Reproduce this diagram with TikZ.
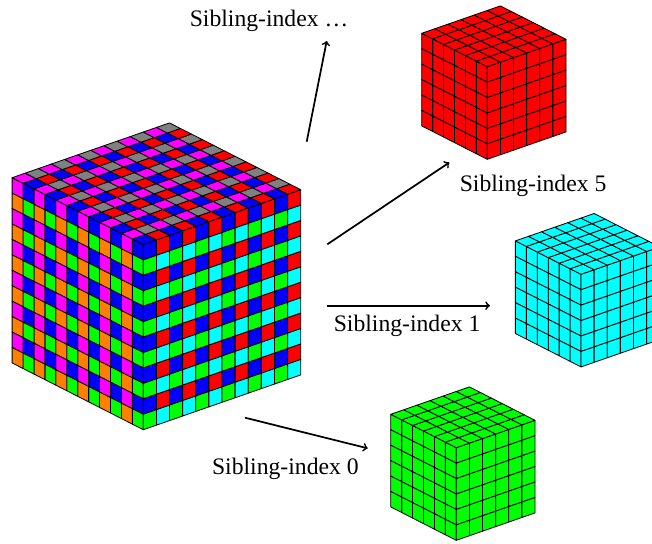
\documentclass[tikz,border=0pt]{standalone}
\usepackage{fontspec}
\setmainfont{Liberation Serif}
\definecolor{cellmagenta}{RGB}{255,0,255}
\definecolor{cellcyan}{RGB}{0,255,255}
\definecolor{cellorange}{RGB}{255,128,0}
\definecolor{cellgreen}{RGB}{0,255,0}
\definecolor{cellblue}{RGB}{0,0,255}
\definecolor{cellred}{RGB}{255,0,0}
\definecolor{cellgray}{RGB}{128,128,128}
\tikzset{
  px/.style={x=0.75pt,y=-0.75pt},
  cellbox/.style={draw=black,line width=0.62pt,line join=round},
  flow/.style={->,line width=1.3pt,black},
  lab/.style={anchor=base west,inner sep=0pt,font=\fontsize{17.75pt}{20pt}\selectfont},
}
% colour rules: #1 column from the front edge, #2 second index
\newcommand{\colL}[2]{\ifodd#1\relax\ifodd#2\relax\def\cellcol{cellorange}\else\def\cellcol{cellmagenta}\fi\else\ifodd#2\relax\def\cellcol{cellgreen}\else\def\cellcol{cellblue}\fi\fi}
\newcommand{\colR}[2]{\ifodd#1\relax\ifodd#2\relax\def\cellcol{cellcyan}\else\def\cellcol{cellred}\fi\else\ifodd#2\relax\def\cellcol{cellgreen}\else\def\cellcol{cellblue}\fi\fi}
\newcommand{\colT}[2]{\ifodd#1\relax\ifodd#2\relax\def\cellcol{cellgray}\else\def\cellcol{cellmagenta}\fi\else\ifodd#2\relax\def\cellcol{cellred}\else\def\cellcol{cellblue}\fi\fi}
\newcommand{\colAll}[3]{\def\cellcol{#1}}
% \facegrid{origin}{u}{v}{n}{colour rule}
\newcommand{\facegrid}[5]{%
  \begin{scope}[shift={#1},x={#2},y={#3}]
    \pgfmathtruncatemacro{\nlast}{#4-1}
    \foreach \ca in {0,...,\nlast}{
      \foreach \cb in {0,...,\nlast}{
        #5{\ca}{\cb}
        \pgfmathtruncatemacro{\cc}{\ca+1}
        \pgfmathtruncatemacro{\cd}{\cb+1}
        \filldraw[cellbox,fill=\cellcol] (\ca,\cb) -- (\cc,\cb) -- (\cc,\cd) -- (\ca,\cd) -- cycle;
      }
    }
  \end{scope}}
% \cubeshape{front top corner}{n}{left rule}{right rule}{top rule}
\newcommand{\cubeshape}[5]{%
  \facegrid{#1}{(-8.2pt,4.175pt)}{(0pt,-11.575pt)}{#2}{#3}
  \facegrid{#1}{(9.8375pt,3.425pt)}{(0pt,-11.575pt)}{#2}{#4}
  \facegrid{#1}{(-8.2pt,4.175pt)}{(9.8375pt,3.425pt)}{#2}{#5}}
\newcommand{\solidcube}[3]{\cubeshape{#1}{#2}{\colAll{#3}}{\colAll{#3}}{\colAll{#3}}}
\begin{document}
\begin{tikzpicture}[px]
  \useasboundingbox (0,0) rectangle (652,543);
  \begin{scope}
    \clip (0,0) rectangle (652,543);
    \cubeshape{(143.3,244.5)}{12}{\colL}{\colR}{\colT}
    \solidcube{(487.3,66.7)}{6}{cellred}
    \solidcube{(581,274.3)}{6}{cellcyan}
    \solidcube{(456.3,447.7)}{6}{cellgreen}
  \end{scope}

  \node[lab] (ldots) at (189.5,26.7) {Sibling-index …};
  \node[lab] (lfive) at (459.5,191.7) {Sibling-index 5};
  \node[lab] (lone) at (333.5,331) {Sibling-index 1};
  \node[lab] (lzero) at (211.8,474) {Sibling-index 0};

  \coordinate (sd) at (306.7,141.7);
  \coordinate (ed) at (326.7,41);
  \coordinate (sf) at (327.3,244.3);
  \coordinate (ef) at (449.3,162.5);
  \coordinate (so) at (327.3,305.7);
  \coordinate (eo) at (490,305.7);
  \coordinate (sz) at (245,417.7);
  \coordinate (ez) at (367.7,448.3);

  \draw[flow] (sd) -- (ed);
  \draw[flow] (sf) -- (ef);
  \draw[flow] (so) -- (eo);
  \draw[flow] (sz) -- (ez);
\end{tikzpicture}
\end{document}
